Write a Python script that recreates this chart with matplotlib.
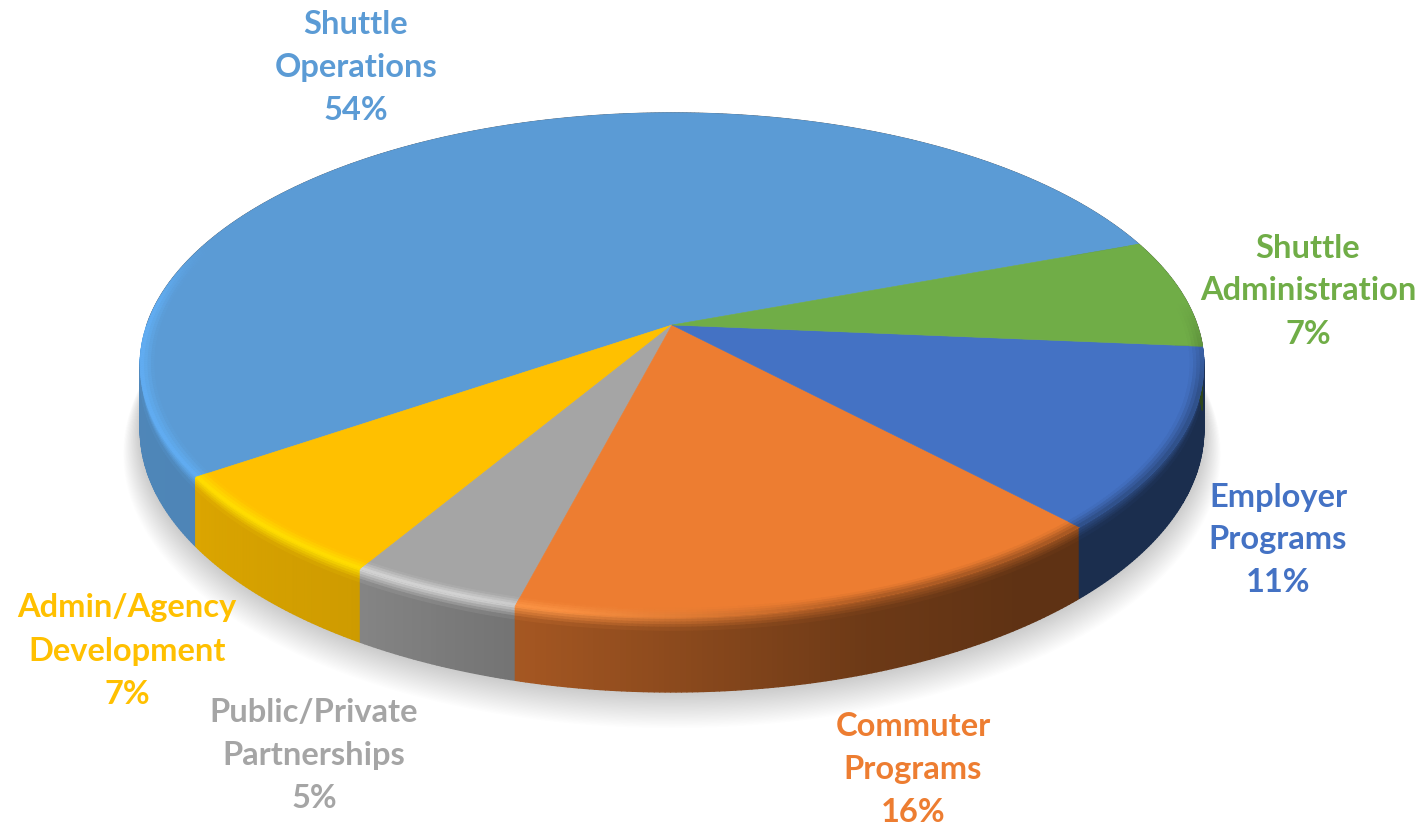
import numpy as np
import matplotlib
matplotlib.use("Agg")
import matplotlib.pyplot as plt
from matplotlib.collections import PolyCollection
from matplotlib.colors import to_rgb

# data, starting at the green slice and going counter clockwise
names = ["Shuttle\nOperations", "Admin/Agency\nDevelopment", "Public/Private\nPartnerships",
         "Commuter\nPrograms", "Employer\nPrograms", "Shuttle\nAdministration"]
percent = [54, 7, 5, 16, 11, 7]
# slice sizes as measured on the picture, a bit off from the printed numbers
shares = [53.9, 6.9, 4.5, 16.1, 11.6, 7.0]
colors = ["#5b9bd5", "#ffc000", "#a5a5a5", "#ed7d31", "#4472c4", "#70ad47"]
shines = ["#62aff5", "#ffe000", "#d8d8d8", "#ff9a4a", "#4472c4", "#70ad47"]
label_x = [356, 127, 314, 913, 1278, 1308]
label_y = [25, 608, 712, 727, 497, 248]

# perspective of the disc, in pixels
apex_x, apex_y = 672, 325
scale_x, scale_y, tilt = 525.0, 245.6, 0.159
depth = 63.0
bevel = 11.0
start_angle = 20.3

shade_at = [-270, -146, -122, -105, -72, -55, 90]
shade_val = [0.88, 0.86, 0.81, 0.70, 0.46, 0.40, 0.40]
shine_at = [-270, -200, -185, -110, -75, 90]
shine_val = [0.0, 0.0, 1.0, 1.0, 0.0, 0.0]
dark_at = [-270, -100, -70, -15, 5, 90]
dark_val = [0.0, 0.0, 0.55, 0.55, 0.0, 0.0]


def project(theta, r=1.0, drop=0.0):
    t = np.radians(theta)
    x, y = r * np.cos(t), r * np.sin(t)
    w = 1 + tilt * y
    return apex_x + scale_x * x / w, apex_y - scale_y * y / w + drop / w


def wrap(theta):
    return ((theta + 270) % 360) - 270


def mix(a, b, f):
    return np.array(a) * (1 - f) + np.array(b) * f


def side_col(i, a):
    return np.array(to_rgb(colors[i])) * np.interp(wrap(a), shade_at, shade_val)


def edge_col(i, a):
    # colour right on the rim: lit at the front left, shaded at the front right
    base = to_rgb(colors[i])
    lit = mix(base, to_rgb(shines[i]), np.interp(wrap(a), shine_at, shine_val))
    return mix(lit, side_col(i, a), np.interp(wrap(a), dark_at, dark_val))


def band(ang, r0, d0, r1, d1, color_fn):
    polys, cols = [], []
    for a0, a1 in zip(ang[:-1], ang[1:]):
        x0, y0 = project(a0, r0, d0)
        x1, y1 = project(a1, r0, d0)
        x2, y2 = project(a1, r1, d1)
        x3, y3 = project(a0, r1, d1)
        polys.append([(x0, y0), (x1, y1), (x2, y2), (x3, y3)])
        cols.append(color_fn(a0))
    return polys, cols


def main():
    fig = plt.figure(figsize=(14.22, 8.27), dpi=100)
    ax = fig.add_axes([0, 0, 1, 1])
    ax.set_xlim(0, 1422)
    ax.set_ylim(827, 0)
    ax.axis("off")

    # soft shadow under the disc
    rim = np.linspace(0, 360, 361)
    for i in range(26):
        x, y = project(rim, 1.0 + 0.0012 * (26 - i), depth + 0.8 * (26 - i))
        ax.fill(x, y, color="black", alpha=0.007, lw=0, zorder=1)

    edges = start_angle + np.cumsum([0] + shares) * 3.6
    steps = [np.linspace(edges[i], edges[i + 1], int(s * 7.2) + 2) for i, s in enumerate(shares)]

    polys, cols = [], []
    for i, ang in enumerate(steps):
        p, c = band(ang, 1.0, bevel, 1.0, depth, lambda a: side_col(i, a))
        polys += p
        cols += c
        # bevel going from the rim into the dark side
        for j in range(5):
            fn = lambda a: mix(edge_col(i, a), side_col(i, a), (j + 0.5) / 5)
            p, c = band(ang, 1.0, bevel * j / 5, 1.0, bevel * (j + 1) / 5, fn)
            polys += p
            cols += c
    ax.add_collection(PolyCollection(polys, facecolors=cols, edgecolors=cols, linewidths=1.0, zorder=2))

    # thin dark line round the back of the disc
    x, y = project(np.linspace(-4, 180, 200))
    ax.plot(x, y, color="#555555", lw=1.2, alpha=0.7, zorder=2)

    # top face
    for i, ang in enumerate(steps):
        x, y = project(ang)
        ax.fill(np.r_[apex_x, x], np.r_[apex_y, y], color=colors[i], lw=0.4, zorder=3)

    # the face blends into the rim colour over the last few percent of the radius
    polys, cols = [], []
    for i, ang in enumerate(steps):
        base = to_rgb(colors[i])
        for j in range(4):
            fn = lambda a: mix(base, edge_col(i, a), (j + 0.5) / 4)
            p, c = band(ang, 0.975 + 0.00625 * j, 0, 0.975 + 0.00625 * (j + 1), 0, fn)
            polys += p
            cols += c
    ax.add_collection(PolyCollection(polys, facecolors=cols, edgecolors=cols, linewidths=0.6, zorder=4))

    # labels, one line at a time
    for i, name in enumerate(names):
        lines = name.split("\n") + ["%d%%" % percent[i]]
        for j, line in enumerate(lines):
            ax.text(label_x[i], label_y[i] + 43 * j, line, color=colors[i], fontsize=23.5,
                    fontweight="bold", family="Lato", ha="center", va="center", zorder=5)

    fig.savefig("out.png", dpi=100)
    plt.close(fig)


if __name__ == "__main__":
    main()
